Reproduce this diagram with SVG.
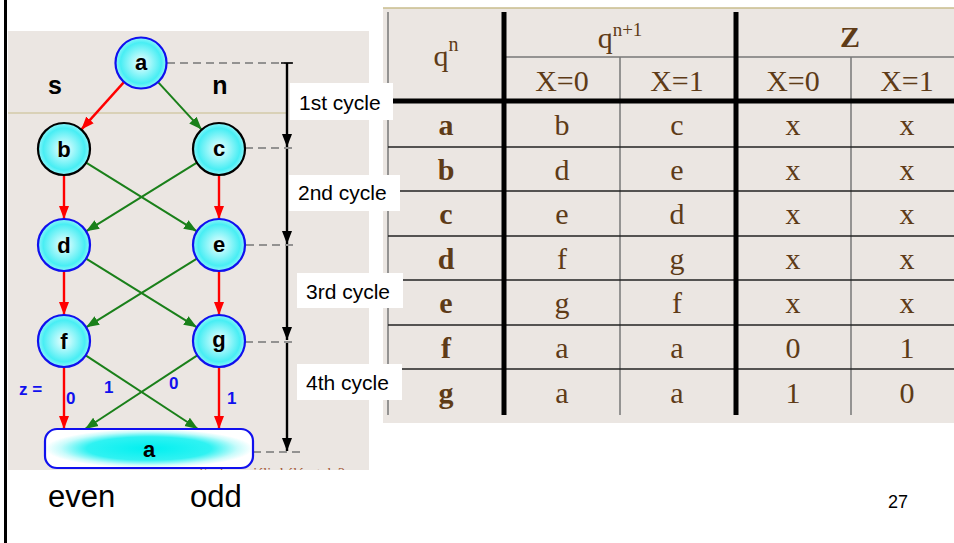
<svg xmlns="http://www.w3.org/2000/svg" width="954" height="543" viewBox="0 0 954 543">
<style>
.nd{stroke-width:2.2;fill:url(#cg)}
.bl{stroke:#1010ee}
.bk{stroke:#000}
.nl{font-family:"Liberation Sans",Arial,sans-serif;font-weight:bold;font-size:22px;text-anchor:middle;fill:#000}
.red{stroke:#ff0000;stroke-width:2.4;fill:none;marker-end:url(#mr)}
.grn{stroke:#1a801a;stroke-width:2;fill:none;marker-end:url(#mg)}
.dash{stroke:#777;stroke-width:1.6;stroke-dasharray:8 5;fill:none}
.cyc{stroke:#000;stroke-width:2.4;fill:none;marker-end:url(#mk)}
.cl{font-family:"Liberation Sans",Arial,sans-serif;font-size:21px;fill:#000}
.el{font-family:"Liberation Sans",Arial,sans-serif;font-weight:bold;font-size:17px;fill:#1010ee}
.tt{font-family:"Liberation Serif","Times New Roman",serif;font-size:30px;fill:#5e3b17;text-anchor:middle}
.tb{font-weight:bold}
.thin{stroke:#777;stroke-width:1.5}
.row{stroke:#222;stroke-width:1.3}
.thick{stroke:#000;stroke-width:5}
</style>
<defs>
<radialGradient id="cg" cx="50%" cy="50%" r="50%">
<stop offset="0" stop-color="#f0ffff"/>
<stop offset="0.8" stop-color="#48eef4"/>
<stop offset="1" stop-color="#90f6fa"/>
</radialGradient>
<radialGradient id="rg" cx="50%" cy="50%" r="50%">
<stop offset="0" stop-color="#00f0f0"/>
<stop offset="0.6" stop-color="#30f2f2"/>
<stop offset="0.85" stop-color="#c8fbfb"/>
<stop offset="1" stop-color="#ffffff"/>
</radialGradient>
<marker id="mr" markerUnits="userSpaceOnUse" markerWidth="14" markerHeight="12" refX="13" refY="6" orient="auto"><path d="M0,1 L13,6 L0,11 z" fill="#ff0000"/></marker>
<marker id="mg" markerUnits="userSpaceOnUse" markerWidth="14" markerHeight="12" refX="13" refY="6" orient="auto"><path d="M0,1 L13,6 L0,11 z" fill="#1a801a"/></marker>
<marker id="mk" markerUnits="userSpaceOnUse" markerWidth="14" markerHeight="12" refX="13" refY="6" orient="auto"><path d="M0,1 L13,6 L0,11 z" fill="#000"/></marker>
<clipPath id="clipbg"><rect x="8" y="31" width="361" height="439"/></clipPath>
</defs>

<rect x="0" y="0" width="954" height="543" fill="#ffffff"/>
<rect x="8" y="31" width="361" height="439" fill="#ebe6e2"/>
<rect x="383" y="8" width="571" height="415" fill="#ebe6e2"/>
<line x1="383" y1="8" x2="954" y2="8" stroke="#c8bc8c" stroke-width="1.5"/>
<line x1="8" y1="113" x2="287" y2="113" stroke="#c8bc8c" stroke-width="1.2"/>
<line x1="5.5" y1="0" x2="5.5" y2="543" stroke="#000" stroke-width="3"/>

<text x="345" y="478" clip-path="url(#clipbg)" font-family="'Liberation Serif',serif" font-size="14" fill="#a0522d" text-anchor="end">Szekvenciális hálózatok 2</text>

<g id="connectors">
<line class="red" x1="123.7" y1="82.4" x2="81.3" y2="129.6"/>
<line class="grn" x1="158.3" y1="82.4" x2="201.7" y2="129.6"/>
<line class="red" x1="64" y1="175" x2="64" y2="219"/>
<line class="red" x1="219" y1="175" x2="219" y2="219"/>
<line class="grn" x1="86.1" y1="162.7" x2="196.9" y2="231.3"/>
<line class="grn" x1="196.9" y1="162.7" x2="86.1" y2="231.3"/>
<line class="red" x1="64" y1="271" x2="64" y2="315"/>
<line class="red" x1="219" y1="271" x2="219" y2="315"/>
<line class="grn" x1="86.1" y1="258.7" x2="196.9" y2="327.3"/>
<line class="grn" x1="196.9" y1="258.7" x2="86.1" y2="327.3"/>
<line class="red" x1="64" y1="367" x2="64" y2="429"/>
<line class="red" x1="219" y1="367" x2="219" y2="429"/>
<line class="grn" x1="85.7" y1="355.3" x2="198" y2="429"/>
<line class="grn" x1="197.3" y1="355.3" x2="85" y2="429"/>

<line class="dash" x1="167" y1="63" x2="292" y2="63"/>
<line class="dash" x1="245" y1="148" x2="293" y2="148"/>
<line class="dash" x1="246" y1="245" x2="295" y2="245"/>
<line class="dash" x1="245" y1="342" x2="292" y2="342"/>
<line class="dash" x1="253" y1="452" x2="302" y2="452"/>
<line x1="281" y1="63" x2="293" y2="63" stroke="#000" stroke-width="1.5"/>
<line class="cyc" x1="287" y1="63" x2="287" y2="147"/>
<line class="cyc" x1="287" y1="149" x2="287" y2="244"/>
<line class="cyc" x1="287" y1="246" x2="287" y2="340"/>
<line class="cyc" x1="287" y1="343" x2="287" y2="451"/>
</g>

<g id="node-a-top"><circle class="nd bl" cx="141" cy="63" r="25.5"/><text class="nl" x="141" y="70">a</text></g>
<g id="node-b"><circle class="nd bk" cx="64" cy="149" r="26"/><text class="nl" x="64" y="157">b</text></g>
<g id="node-c"><circle class="nd bk" cx="219" cy="149" r="26"/><text class="nl" x="219" y="156">c</text></g>
<g id="node-d"><circle class="nd bl" cx="64" cy="245" r="26"/><text class="nl" x="64" y="253">d</text></g>
<g id="node-e"><circle class="nd bl" cx="219" cy="245" r="26"/><text class="nl" x="219" y="252">e</text></g>
<g id="node-f"><circle class="nd bl" cx="64" cy="341" r="26"/><text class="nl" x="64" y="349">f</text></g>
<g id="node-g"><circle class="nd bl" cx="219" cy="341" r="26"/><text class="nl" x="219" y="347">g</text></g>
<g id="node-a-bottom"><rect x="45" y="429" width="208" height="39" rx="12" fill="url(#rg)" stroke="#1010ee" stroke-width="2.2"/><text class="nl" x="149" y="457">a</text></g>

<g id="labels">
<text x="55" y="94" font-family="'Liberation Sans',Arial,sans-serif" font-weight="bold" font-size="25" text-anchor="middle">s</text>
<text x="220" y="94" font-family="'Liberation Sans',Arial,sans-serif" font-weight="bold" font-size="25" text-anchor="middle">n</text>
<text class="el" x="19" y="395">z =</text>
<text class="el" x="66" y="404">0</text>
<text class="el" x="104" y="393">1</text>
<text class="el" x="169" y="389">0</text>
<text class="el" x="227" y="404">1</text>
</g>

<g id="table">
<line class="thin" x1="388" y1="12" x2="388" y2="415"/>
<line class="thin" x1="504" y1="57" x2="954" y2="57"/>
<line class="thin" x1="620" y1="57" x2="620" y2="415"/>
<line class="thin" x1="851" y1="57" x2="851" y2="415"/>
<line class="row" x1="388" y1="147" x2="954" y2="147"/>
<line class="row" x1="388" y1="191" x2="954" y2="191"/>
<line class="row" x1="388" y1="236" x2="954" y2="236"/>
<line class="row" x1="388" y1="280" x2="954" y2="280"/>
<line class="row" x1="388" y1="325" x2="954" y2="325"/>
<line class="row" x1="388" y1="369" x2="954" y2="369"/>
<line class="thick" x1="504" y1="12" x2="504" y2="415"/>
<line class="thick" x1="736" y1="12" x2="736" y2="415"/>
<line class="thick" x1="383" y1="101" x2="954" y2="101"/>

<text class="tt" x="446" y="66">q<tspan font-size="20" dy="-15">n</tspan></text>
<text class="tt" x="620" y="48">q<tspan font-size="19" dy="-12">n+1</tspan></text>
<text class="tt tb" x="850" y="47">Z</text>
<text class="tt" x="562" y="91">X=0</text>
<text class="tt" x="677" y="91">X=1</text>
<text class="tt" x="793" y="91">X=0</text>
<text class="tt" x="907" y="91">X=1</text>

<text class="tt tb" x="446" y="135">a</text><text class="tt" x="562" y="135">b</text><text class="tt" x="677" y="135">c</text><text class="tt" x="793" y="135">x</text><text class="tt" x="907" y="135">x</text>
<text class="tt tb" x="446" y="180">b</text><text class="tt" x="562" y="180">d</text><text class="tt" x="677" y="180">e</text><text class="tt" x="793" y="180">x</text><text class="tt" x="907" y="180">x</text>
<text class="tt tb" x="446" y="224">c</text><text class="tt" x="562" y="224">e</text><text class="tt" x="677" y="224">d</text><text class="tt" x="793" y="224">x</text><text class="tt" x="907" y="224">x</text>
<text class="tt tb" x="446" y="269">d</text><text class="tt" x="562" y="269">f</text><text class="tt" x="677" y="269">g</text><text class="tt" x="793" y="269">x</text><text class="tt" x="907" y="269">x</text>
<text class="tt tb" x="446" y="313">e</text><text class="tt" x="562" y="313">g</text><text class="tt" x="677" y="313">f</text><text class="tt" x="793" y="313">x</text><text class="tt" x="907" y="313">x</text>
<text class="tt tb" x="446" y="358">f</text><text class="tt" x="562" y="358">a</text><text class="tt" x="677" y="358">a</text><text class="tt" x="793" y="358">0</text><text class="tt" x="907" y="358">1</text>
<text class="tt tb" x="446" y="403">g</text><text class="tt" x="562" y="403">a</text><text class="tt" x="677" y="403">a</text><text class="tt" x="793" y="403">1</text><text class="tt" x="907" y="403">0</text>
</g>

<g id="cycle-labels">
<rect x="290" y="83" width="103" height="37" fill="#fff"/><text class="cl" x="299" y="110">1st cycle</text>
<rect x="289" y="175" width="111" height="36" fill="#fff"/><text class="cl" x="298" y="200">2nd cycle</text>
<rect x="297" y="273" width="106" height="35" fill="#fff"/><text class="cl" x="306" y="299">3rd cycle</text>
<rect x="297" y="364" width="105" height="36" fill="#fff"/><text class="cl" x="306" y="390">4th cycle</text>
</g>

<text x="48" y="507" font-family="'Liberation Sans',Arial,sans-serif" font-size="31">even</text>
<text x="190" y="507" font-family="'Liberation Sans',Arial,sans-serif" font-size="31">odd</text>
<text x="888" y="508" font-family="'Liberation Sans',Arial,sans-serif" font-size="18">27</text>
</svg>
